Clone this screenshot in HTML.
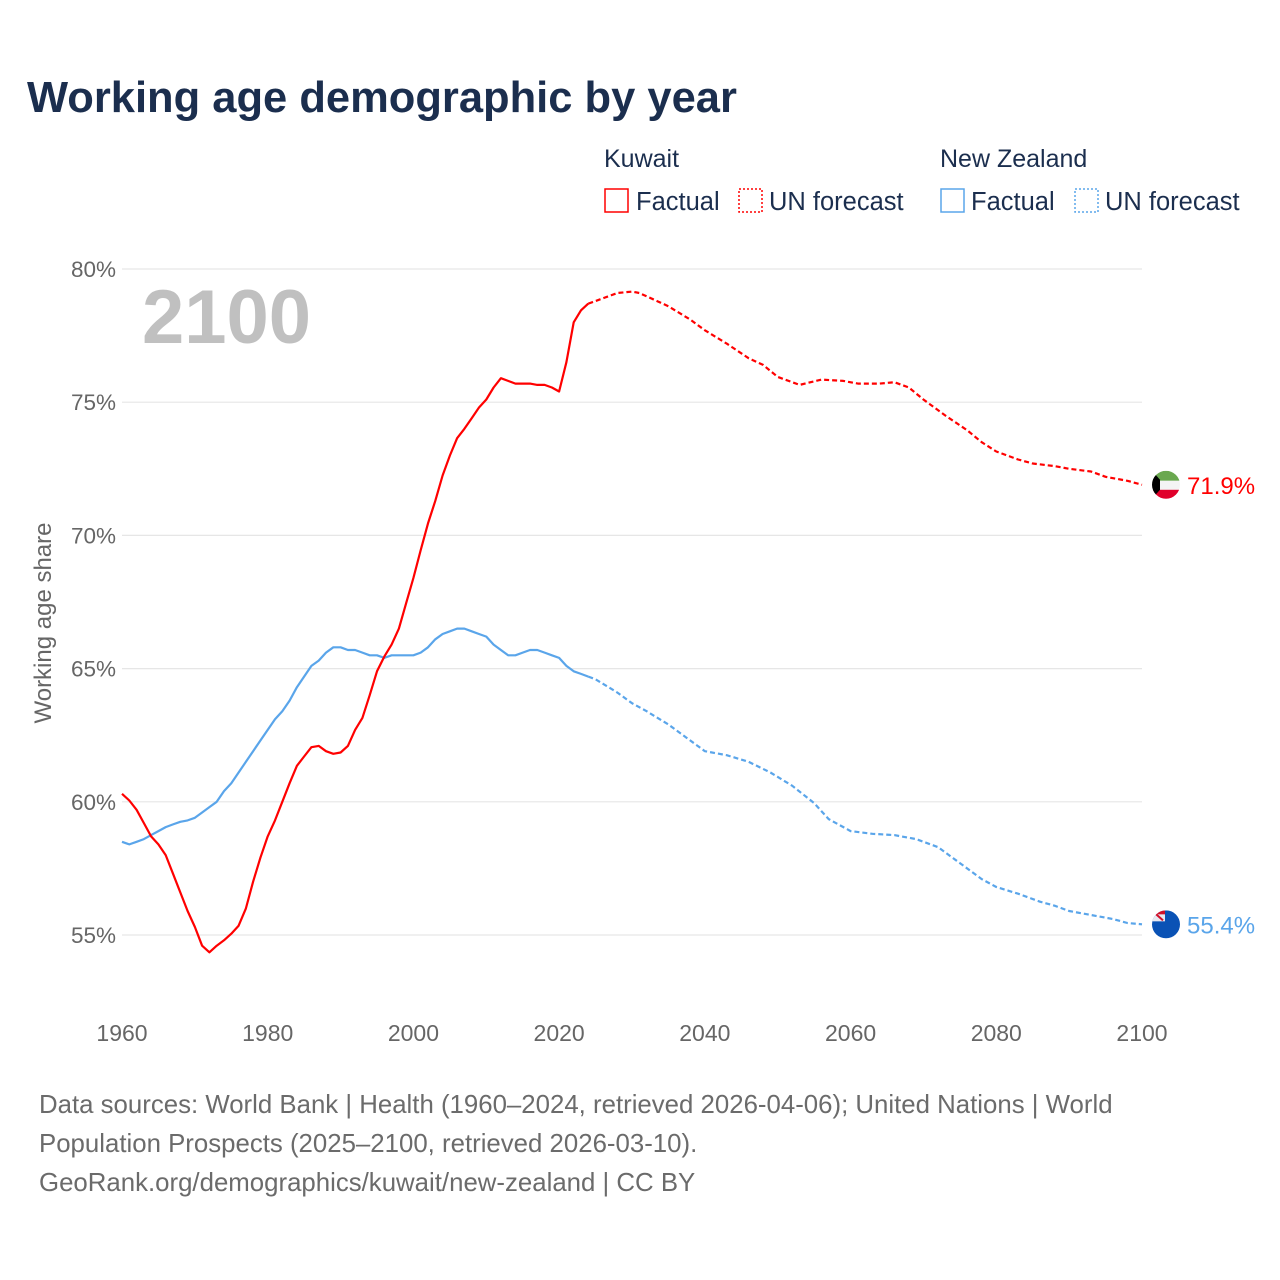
<!DOCTYPE html>
<html><head><meta charset="utf-8"><style>
html,body{margin:0;padding:0;background:#fff;width:1280px;height:1280px;overflow:hidden}
svg{font-family:"Liberation Sans",sans-serif}
</style></head><body>
<svg id="chart" width="1280" height="1280" viewBox="0 0 1280 1280">
<text x="27" y="112" font-size="43.5" font-weight="bold" fill="#1b2e4e">Working age demographic by year</text>
<g>
<text x="604" y="167" font-size="25" fill="#1b2e4e">Kuwait</text>
<text x="940" y="167" font-size="25" fill="#1b2e4e">New Zealand</text>
<g><rect x="605" y="189" width="23" height="23" fill="none" stroke="#f00" stroke-width="1.5"/><text x="636" y="210" font-size="25.5" fill="#1b2e4e">Factual</text></g>
<g><rect x="739" y="189" width="23" height="23" fill="none" stroke="#f00" stroke-width="1.5" stroke-dasharray="2 2"/><text x="769" y="210" font-size="25.5" fill="#1b2e4e">UN forecast</text></g>
<g><rect x="941" y="189" width="23" height="23" fill="none" stroke="#5aa5ea" stroke-width="1.5"/><text x="971" y="210" font-size="25.5" fill="#1b2e4e">Factual</text></g>
<g><rect x="1075" y="189" width="23" height="23" fill="none" stroke="#5aa5ea" stroke-width="1.5" stroke-dasharray="2 2"/><text x="1105" y="210" font-size="25.5" fill="#1b2e4e">UN forecast</text></g>
</g>
<g id="grid"></g>
<text x="142" y="343" font-size="76" font-weight="bold" fill="#c0c0c0">2100</text>
<text transform="translate(51,623) rotate(-90)" text-anchor="middle" font-size="24" fill="#666">Working age share</text>
<g id="series"></g>
<g font-size="25.8" fill="#6b6b6b">
<text x="39" y="1113">Data sources: World Bank | Health (1960–2024, retrieved 2026-04-06); United Nations | World</text>
<text x="39" y="1152">Population Prospects (2025–2100, retrieved 2026-03-10).</text>
<text x="39" y="1191">GeoRank.org/demographics/kuwait/new-zealand | CC BY</text>
</g>
</svg>
<script>
const yTicks=[55,60,65,70,75,80];
const xTicks=[1960,1980,2000,2020,2040,2060,2080,2100];
const kwYears=[1960,1961,1962,1963,1964,1965,1966,1967,1968,1969,1970,1971,1972,1973,1974,1975,1976,1977,1978,1979,1980,1981,1982,1983,1984,1985,1986,1987,1988,1989,1990,1991,1992,1993,1994,1995,1996,1997,1998,1999,2000,2001,2002,2003,2004,2005,2006,2007,2008,2009,2010,2011,2012,2013,2014,2015,2016,2017,2018,2019,2020,2021,2022,2023,2024];
const kwValues=[60.3,60.05,59.7,59.2,58.7,58.4,58.0,57.3,56.6,55.9,55.3,54.6,54.35,54.6,54.8,55.05,55.35,56.0,57.0,57.9,58.7,59.3,60.0,60.7,61.35,61.7,62.05,62.1,61.9,61.8,61.85,62.1,62.7,63.15,64.0,64.9,65.45,65.9,66.5,67.45,68.4,69.45,70.45,71.3,72.25,73.0,73.65,74.0,74.4,74.8,75.1,75.55,75.9,75.8,75.7,75.7,75.7,75.65,75.65,75.55,75.4,76.5,78.0,78.45,78.7];
const kwFcYears=[2024,2025,2026,2028,2030,2031,2033,2035,2038,2040,2043,2046,2048,2050,2053,2056,2059,2061,2064,2066,2068,2070,2073,2076,2078,2080,2083,2085,2088,2090,2093,2095,2098,2100];
const kwFcValues=[78.7,78.8,78.9,79.1,79.15,79.1,78.85,78.6,78.1,77.7,77.2,76.65,76.4,75.95,75.65,75.85,75.8,75.7,75.7,75.75,75.55,75.1,74.5,73.95,73.5,73.15,72.85,72.7,72.6,72.5,72.4,72.2,72.05,71.9];
const nzYears=[1960,1961,1962,1963,1964,1965,1966,1967,1968,1969,1970,1971,1972,1973,1974,1975,1976,1977,1978,1979,1980,1981,1982,1983,1984,1985,1986,1987,1988,1989,1990,1991,1992,1993,1994,1995,1996,1997,1998,1999,2000,2001,2002,2003,2004,2005,2006,2007,2008,2009,2010,2011,2012,2013,2014,2015,2016,2017,2018,2019,2020,2021,2022,2023,2024];
const nzValues=[58.5,58.4,58.5,58.6,58.75,58.9,59.05,59.15,59.25,59.3,59.4,59.6,59.8,60.0,60.4,60.7,61.1,61.5,61.9,62.3,62.7,63.1,63.4,63.8,64.3,64.7,65.1,65.3,65.6,65.8,65.8,65.7,65.7,65.6,65.5,65.5,65.4,65.5,65.5,65.5,65.5,65.6,65.8,66.1,66.3,66.4,66.5,66.5,66.4,66.3,66.2,65.9,65.7,65.5,65.5,65.6,65.7,65.7,65.6,65.5,65.4,65.1,64.9,64.8,64.7];
const nzFcYears=[2024,2025,2028,2030,2032,2035,2038,2040,2043,2046,2049,2052,2055,2057,2060,2063,2066,2069,2072,2075,2078,2080,2083,2086,2088,2090,2093,2096,2098,2100];
const nzFcValues=[64.7,64.6,64.1,63.7,63.4,62.9,62.3,61.9,61.75,61.5,61.1,60.6,59.95,59.35,58.9,58.8,58.75,58.6,58.3,57.7,57.1,56.8,56.55,56.25,56.1,55.9,55.75,55.6,55.45,55.4];

const X=y=>122+(y-1960)*(1142-122)/140;
const Y=v=>935-(v-55)*(935-269)/25;
const NS='http://www.w3.org/2000/svg';
function mk(tag,attrs,parent){const e=document.createElementNS(NS,tag);for(const k in attrs)e.setAttribute(k,attrs[k]);parent.appendChild(e);return e;}
const grid=document.getElementById('grid');
yTicks.forEach(t=>{
  const l=mk('line',{x1:122,x2:1142,y1:Y(t),y2:Y(t),stroke:'#e6e6e6','stroke-width':1.2},grid);
  
  
  const tx=mk('text',{x:116,y:Y(t)+8,'text-anchor':'end','font-size':22.5,fill:'#666'},grid);
  tx.textContent=t+'%';
  
  
});
xTicks.forEach(t=>{
  const tx=mk('text',{x:X(t),y:1041,'text-anchor':'middle','font-size':23,fill:'#666'},grid);
  tx.textContent=t;
  
  
});
const s=document.getElementById('series');
function line(xs,vs,color,dash,name){
  const d=xs.map((x,i)=>(i?'L':'M')+X(x).toFixed(1)+','+Y(vs[i]).toFixed(1)).join('');
  const p=mk('path',{d:d,fill:'none',stroke:color,'stroke-width':2.2,'stroke-linejoin':'round'},s);
  if(dash)p.setAttribute('stroke-dasharray','5 3');
  
  
}
line(nzYears,nzValues,'#5aa5ea',false,'nz-factual-line');
line(nzFcYears,nzFcValues,'#5aa5ea',true,'nz-forecast-line');
line(kwYears,kwValues,'#f00',false,'kuwait-factual-line');
line(kwFcYears,kwFcValues,'#f00',true,'kuwait-forecast-line');
const kx=1166, ky=Y(kwFcValues[kwFcValues.length-1]);
const defs=mk('defs',{},s);
const c1=mk('clipPath',{id:'ckw'},defs);mk('circle',{cx:kx,cy:ky,r:14},c1);
const kg=mk('g',{'clip-path':'url(#ckw)'},s);


mk('rect',{x:kx-14,y:ky-14,width:28,height:10,fill:'#6aa84f'},kg);
mk('rect',{x:kx-14,y:ky-4,width:28,height:9,fill:'#f4f4f4'},kg);
mk('rect',{x:kx-14,y:ky+5,width:28,height:10,fill:'#e0002a'},kg);
mk('polygon',{points:`${kx-14},${ky-14} ${kx-6},${ky-5} ${kx-6},${ky+5} ${kx-14},${ky+14}`,fill:'#000'},kg);
const kt=mk('text',{x:1187,y:ky+9,'font-size':24,fill:'#f00'},s);
kt.textContent=kwFcValues[kwFcValues.length-1].toFixed(1)+'%';


const nx=1166, ny=Y(nzFcValues[nzFcValues.length-1]);
const c2=mk('clipPath',{id:'cnz'},defs);mk('circle',{cx:nx,cy:ny,r:14},c2);
const ng=mk('g',{'clip-path':'url(#cnz)'},s);


mk('rect',{x:nx-14,y:ny-14,width:28,height:28,fill:'#0a52b5'},ng);
mk('rect',{x:nx-14,y:ny-14,width:13,height:11,fill:'#e8e8f0'},ng);
mk('rect',{x:nx-14,y:ny-14,width:13,height:4,fill:'#d0102a'},ng);
mk('line',{x1:nx-12,y1:ny-12,x2:nx-3,y2:ny-4,stroke:'#d0102a','stroke-width':2},ng);
const nt=mk('text',{x:1187,y:ny+9,'font-size':24,fill:'#5aa5ea'},s);
nt.textContent=nzFcValues[nzFcValues.length-1].toFixed(1)+'%';


</script>
</body></html>
